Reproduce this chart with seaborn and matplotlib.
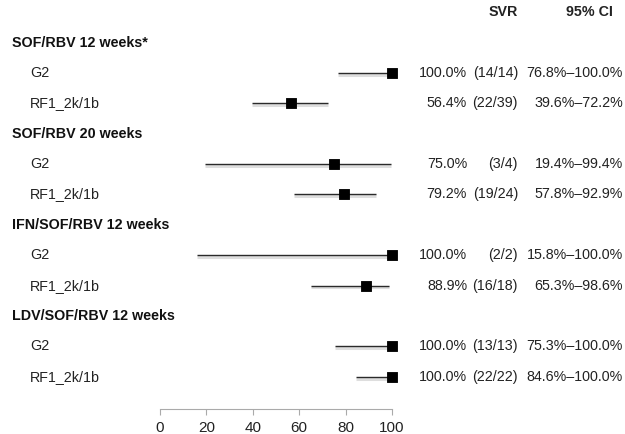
import numpy as np
import pandas as pd
import matplotlib.pyplot as plt
import seaborn as sns
from matplotlib.transforms import blended_transform_factory

# Forest plot data
groups = ["SOF/RBV 12 weeks*", "SOF/RBV 20 weeks", "IFN/SOF/RBV 12 weeks", "LDV/SOF/RBV 12 weeks"]
subgroups = ["G2", "RF1_2k/1b"]
svr = [100.0, 56.4, 75.0, 79.2, 100.0, 88.9, 100.0, 100.0]
ci_low = [76.8, 39.6, 19.4, 57.8, 15.8, 65.3, 75.3, 84.6]
ci_high = [100.0, 72.2, 99.4, 92.9, 100.0, 98.6, 100.0, 100.0]
n_text = ["(14/14)", "(22/39)", "(3/4)", "(19/24)", "(2/2)", "(16/18)", "(13/13)", "(22/22)"]

sns.set_style("white")
plt.rcParams['font.family'] = ['Liberation Sans', 'DejaVu Sans']

# row positions: header at 0, each group takes 3 rows
rows = []
for g in range(len(groups)):
    rows += [3 * g + 2, 3 * g + 3]
df = pd.DataFrame({"row": rows, "svr": svr, "lo": ci_low, "hi": ci_high})

W, H = 625, 434
fig = plt.figure(figsize=(W / 100, H / 100), dpi=100)
ax = fig.add_axes([160 / W, 25 / H, 232 / W, 409 / H])

# CI lines with a soft grey shadow
ax.hlines(df["row"] + 0.06, df["lo"], df["hi"], color="#dedede", lw=2.2, zorder=1)
ax.hlines(df["row"], df["lo"], df["hi"], color="#2a2a2a", lw=1, zorder=2)
sns.scatterplot(data=df, x="svr", y="row", marker="s", s=60, color="black",
                edgecolor="black", ax=ax, zorder=3, clip_on=False)

ax.set_xlim(0, 100)
ax.set_ylim(13.06, -0.4)
ax.set_xticks([0, 20, 40, 60, 80, 100])
ax.set_yticks([])
ax.set_xlabel("")
ax.set_ylabel("")
sns.despine(ax=ax, left=True)
ax.spines["bottom"].set_bounds(0, 100)
ax.spines["bottom"].set_color("#aaaaaa")
ax.tick_params(axis="x", direction="out", length=4, color="#aaaaaa",
               labelsize=11, labelcolor="#222222", bottom=True, pad=5)

def fx(px):
    return px / W

tr = blended_transform_factory(fig.transFigure, ax.transData)
fs = 10.3
txt = "#222222"

ax.text(fx(518), 0, "SVR", transform=tr, ha="right", va="center",
        fontsize=fs, fontweight="bold", color=txt)
ax.text(fx(613), 0, "95% CI", transform=tr, ha="right", va="center",
        fontsize=fs, fontweight="bold", color=txt)

for g, name in enumerate(groups):
    ax.text(fx(12), 3 * g + 1, name, transform=tr, ha="left", va="center",
            fontsize=fs, fontweight="bold", color="#111111")

for i, r in enumerate(rows):
    ax.text(fx(30), r, subgroups[i % 2], transform=tr, ha="left", va="center",
            fontsize=fs, color=txt)
    ax.text(fx(467), r, f"{svr[i]:.1f}%", transform=tr, ha="right", va="center",
            fontsize=fs, color=txt)
    ax.text(fx(518), r, n_text[i], transform=tr, ha="right", va="center",
            fontsize=fs, color=txt)
    ax.text(fx(623), r, f"{ci_low[i]:.1f}%\u2013{ci_high[i]:.1f}%", transform=tr,
            ha="right", va="center", fontsize=fs, color=txt)

fig.savefig("out.png", dpi=100)
